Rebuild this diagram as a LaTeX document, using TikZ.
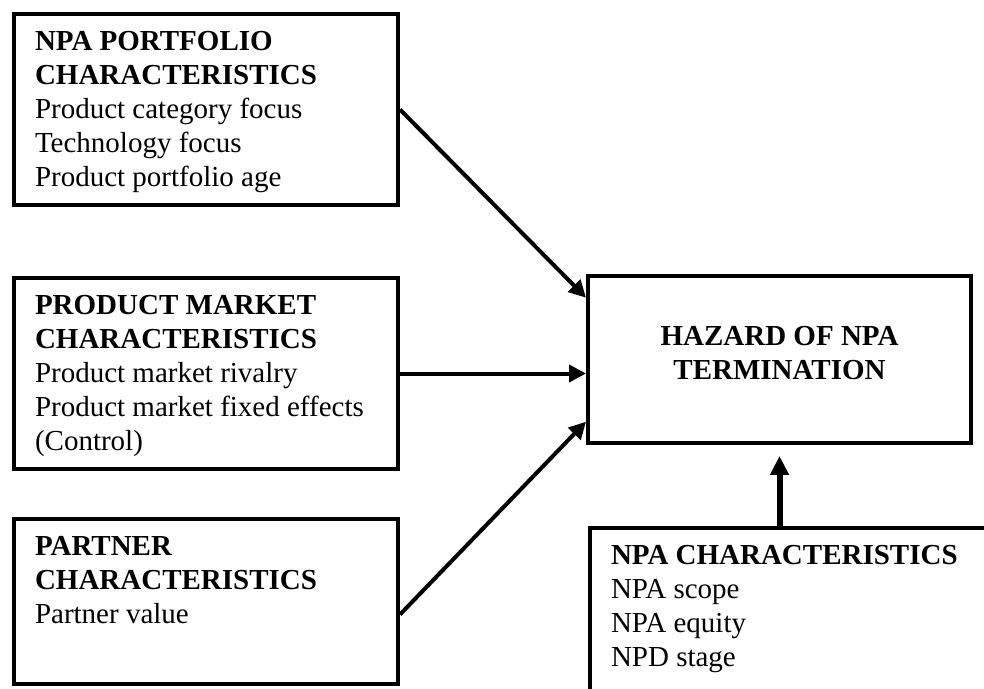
\documentclass[tikz,border=0pt]{standalone}
\usepackage{fontspec}
\setmainfont{Liberation Serif}
\usetikzlibrary{arrows.meta}

\newcommand{\factortext}[3]{\parbox[c][#2][t]{#1}{\rule{0pt}{36pt}#3}}

\tikzset{
  factor/.style={draw, line width=4pt, anchor=north west, inner xsep=21pt, inner ysep=0pt,
    font=\fontsize{29}{34}\selectfont},
  outcome/.style={draw, line width=4pt, minimum width=383pt, minimum height=166.5pt,
    inner sep=0pt, align=center, text depth=13pt, font=\fontsize{29}{34}\selectfont\bfseries},
  effect/.style={line width=4pt, -{Triangle[length=17pt,width=17pt]}},
}

\begin{document}
\begin{tikzpicture}[x=1pt, y=-1pt]
    \useasboundingbox (0,0) rectangle (984,688);
    % explanatory factors
    \node[factor] (portfolio) at (12,12)
      {\factortext{342pt}{191pt}{{\bfseries NPA PORTFOLIO\\CHARACTERISTICS}\\
        Product category focus\\Technology focus\\Product portfolio age}};
    \node[factor] (market) at (12,276)
      {\factortext{342pt}{191pt}{{\bfseries PRODUCT MARKET\\CHARACTERISTICS}\\
        Product market rivalry\\Product market fixed effects\\(Control)}};
    \node[factor] (partner) at (12,517)
      {\factortext{342pt}{165pt}{{\bfseries PARTNER\\CHARACTERISTICS}\\Partner value}};
    \node[factor] (npa) at (588,526)
      {\factortext{380pt}{200pt}{{\bfseries NPA CHARACTERISTICS}\\
        NPA scope\\NPA equity\\NPD stage}};

    % outcome
    \node[outcome] (hazard) at (779.5,359.7) {HAZARD OF NPA\\TERMINATION};

    \draw[effect] (portfolio.east) -- ([yshift=62pt]hazard.west);
    \draw[effect] (market.east) -- (market.east -| hazard.west);
    \draw[effect] ([yshift=-13pt]partner.east) -- ([yshift=-62pt]hazard.west);
    \draw[line width=6pt, -{Triangle[length=19pt,width=18pt]}]
      (hazard.south |- npa.north) -- ([yshift=-11pt]hazard.south);
\end{tikzpicture}
\end{document}
